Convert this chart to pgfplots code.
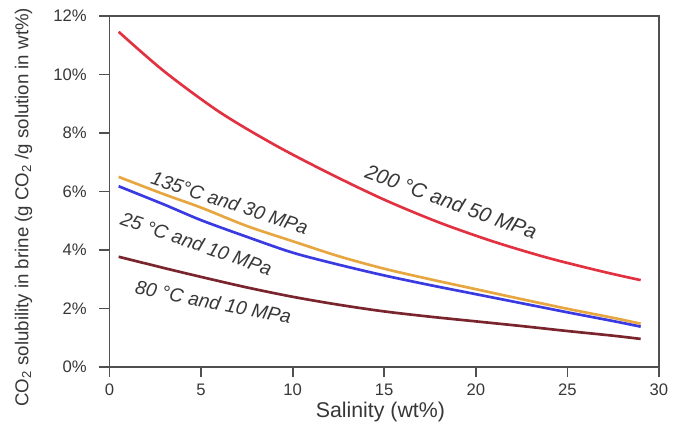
\documentclass[border=0pt]{standalone}
\usepackage{fontspec}
\setmainfont{Liberation Sans}
\usepackage{pgfplots}
\pgfplotsset{compat=1.18}
\definecolor{cred}{RGB}{226,50,66}
\definecolor{corange}{RGB}{232,166,64}
\definecolor{cblue}{RGB}{58,58,226}
\definecolor{cbrown}{RGB}{122,36,46}
\definecolor{axisgray}{RGB}{80,80,80}
\definecolor{tgray}{RGB}{55,55,55}
\pgfplotstableread{
x y
0.5 11.46
3 10.1
6 8.72
9 7.6
12 6.62
15 5.72
18 4.94
21 4.28
24 3.72
27 3.25
29 2.97
}\redtab
\pgfplotstableread{
x y
0.5 6.5
3 5.9
5 5.45
7.5 4.82
10 4.3
12.5 3.79
15 3.36
17.5 3.0
20 2.66
22.5 2.32
25 1.99
27.5 1.68
29 1.48
}\orangetab
\pgfplotstableread{
x y
0.5 6.18
3 5.55
5 5.02
7.5 4.45
10 3.91
12.5 3.5
15 3.13
17.5 2.8
20 2.49
22.5 2.18
25 1.87
27.5 1.57
29 1.38
}\bluetab
\pgfplotstableread{
x y
0.5 3.77
3 3.38
5 3.08
7.5 2.72
10 2.4
12.5 2.13
15 1.9
17.5 1.72
20 1.56
22.5 1.4
25 1.23
27.5 1.07
29 0.96
}\browntab
\begin{document}
\begin{tikzpicture}
\useasboundingbox (-82.125pt,-43.5pt) rectangle (424.875pt,275.25pt);
\begin{axis}[
  at={(0,0)}, anchor=south west,
  scale only axis, width=412.125pt, height=263.25pt,
  xmin=0, xmax=30, ymin=0, ymax=12,
  axis line style={draw=axisgray, line width=1.3pt},
  tick pos=left, tick align=outside, major tick length=7.5pt,
  tick style={draw=axisgray, line width=1.3pt},
  xtick={0,5,10,15,20,25,30},
  xticklabels={0,5,10,15,20,25,30},
  ytick={0,2,4,6,8,10,12},
  yticklabels={0\%,2\%,4\%,6\%,8\%,10\%,12\%},
  ticklabel style={font=\fontsize{12.5}{14}\selectfont, text=tgray},
  yticklabel style={xshift=-6pt},
  xticklabel style={yshift=-1.5pt},
  xlabel={Salinity (wt\%)},
  xlabel style={font=\fontsize{16}{18}\selectfont, text=tgray, at={(axis description cs:0.493,-0.127)}, anchor=center},
  ylabel={CO\textsubscript{2} solubility in brine (g CO\textsubscript{2} /g solution in wt\%)},
  ylabel style={font=\fontsize{14}{16}\selectfont, text=tgray, at={(axis description cs:-0.1565,0.455)}, anchor=center},
  every axis plot/.append style={line width=2pt, smooth, no markers},
]
\addplot[cred] table {\redtab};
\addplot[corange] table {\orangetab};
\addplot[cblue] table {\bluetab};
\addplot[cbrown] table {\browntab};
\node[rotate=-20, font=\itshape\fontsize{15.5}{17}\selectfont, text=tgray] at (axis cs:18.66,5.65) {200 °C and 50 MPa};
\node[rotate=-18, font=\itshape\fontsize{14.5}{16}\selectfont, text=tgray] at (axis cs:6.57,5.62) {135°C and 30 MPa};
\node[rotate=-19, font=\itshape\fontsize{14.5}{16}\selectfont, text=tgray] at (axis cs:4.75,4.22) {25 °C and 10 MPa};
\node[rotate=-11, font=\itshape\fontsize{14.5}{16}\selectfont, text=tgray] at (axis cs:5.67,2.22) {80 °C and 10 MPa};
\end{axis}
\end{tikzpicture}
\end{document}
